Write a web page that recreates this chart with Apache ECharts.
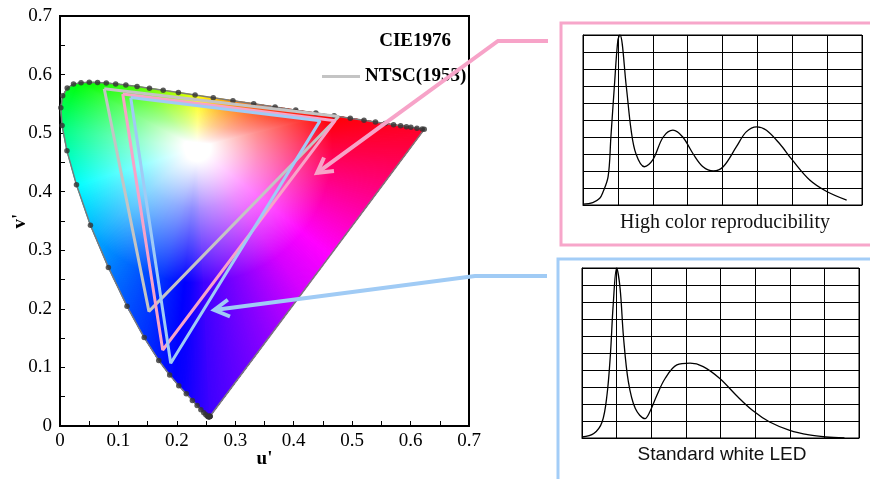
<!DOCTYPE html>
<html>
<head>
<meta charset="utf-8">
<script src="https://cdn.jsdelivr.net/npm/echarts@6/dist/echarts.min.js"></script>
<style>
html, body { margin: 0; padding: 0; background: #fff; }
#chart { width: 870px; height: 479px; }
</style>
</head>
<body>
<div id="chart"></div>
<script>
// spectral locus in CIE 1976 u'v' (380-650 nm every 5 nm, then 660, 680, 700)
const locusU = [0.2568, 0.2566, 0.2564, 0.2561, 0.2557, 0.2552, 0.2545, 0.2537, 0.2522, 0.2496,
    0.2461, 0.2411, 0.2347, 0.2266, 0.2161, 0.2033, 0.1877, 0.1690, 0.1441, 0.1147,
    0.0828, 0.0521, 0.0282, 0.0119, 0.0035, 0.0014, 0.0046, 0.0123, 0.0231, 0.0360,
    0.0501, 0.0643, 0.0792, 0.0953, 0.1127, 0.1319, 0.1531, 0.1766, 0.2026, 0.2312,
    0.2623, 0.2960, 0.3315, 0.3681, 0.4035, 0.4379, 0.4692, 0.4968, 0.5203, 0.5399,
    0.5565, 0.5709, 0.5830, 0.5929, 0.6005, 0.6109, 0.6199, 0.6234];
const locusV = [0.0166, 0.0166, 0.0163, 0.0163, 0.0159, 0.0159, 0.0159, 0.0159, 0.0169, 0.0191,
    0.0226, 0.0279, 0.0350, 0.0437, 0.0549, 0.0688, 0.0871, 0.1119, 0.1510, 0.2044,
    0.2708, 0.3427, 0.4117, 0.4698, 0.5131, 0.5432, 0.5638, 0.5770, 0.5837, 0.5861,
    0.5868, 0.5865, 0.5856, 0.5841, 0.5821, 0.5796, 0.5766, 0.5732, 0.5694, 0.5651,
    0.5604, 0.5554, 0.5501, 0.5446, 0.5393, 0.5342, 0.5296, 0.5254, 0.5219, 0.5190,
    0.5165, 0.5143, 0.5125, 0.5111, 0.5099, 0.5084, 0.5070, 0.5065];

// gamut triangles (u', v'), closed
const ntscU = [0.0757, 0.4769, 0.1522, 0.0757];
const ntscV = [0.5757, 0.5285, 0.1957, 0.5757];
const highU = [0.1074, 0.4709, 0.1758, 0.1074];
const highV = [0.5669, 0.5213, 0.1298, 0.5669];
const ledU = [0.1210, 0.4450, 0.1895, 0.1210];
const ledV = [0.5610, 0.5210, 0.1070, 0.5610];

// arrow tips (u', v')
const highTip = [0.440, 0.432];
const ledTip = [0.264, 0.198];

// spectra: wavelength (nm) and relative intensity (grid rows)
const highNm = [400, 414, 424, 428, 436, 440, 445, 450, 453, 462, 469, 476, 488, 500, 515, 529,
    543, 558, 572, 587, 601, 620, 634, 649, 663, 682, 700, 725, 750, 778];
const highVal = [0.05, 0.14, 0.4, 0.69, 1.67, 4.0, 7.0, 9.7, 10, 7.0, 4.4, 3.0, 2.25, 2.65, 4.0, 4.4,
    4.0, 3.0, 2.25, 2.0, 2.25, 3.43, 4.3, 4.6, 4.4, 3.6, 2.65, 1.47, 0.78, 0.29];
const ledNm = [400, 417, 429, 436, 441, 445, 450, 455, 460, 467, 477, 491, 498, 508, 520, 537,
    556, 575, 599, 623, 647, 671, 700, 728, 752, 779];
const ledVal = [0.06, 0.26, 0.94, 2.5, 4.9, 7.8, 10, 8.8, 5.9, 3.3, 1.73, 1.14, 1.54, 2.5, 3.5, 4.3,
    4.4, 4.2, 3.5, 2.5, 1.6, 0.94, 0.45, 0.18, 0.06, 0.0];

const SERIF = 'Liberation Serif';
const SANS = 'Liberation Sans';
const WHITE = [0.235, 0.475];   // centre of the white patch of the fill

const pairs = (xs, ys) => xs.map((x, i) => [x, ys[i]]);

// colour of the filled diagram: hue by angle around the white patch
const hueStops = [[0, 345], [13, 360], [40, 385], [88, 420], [125, 450], [150, 480], [171, 510],
    [197, 540], [233, 570], [254, 588], [267, 603], [273, 615], [279, 622], [289, 632], [306, 650],
    [321, 660], [360, 705]];
function hueAt(u, v) {
    let a = Math.atan2(v - WHITE[1], u - WHITE[0]) * 180 / Math.PI;
    if (a < 0) a += 360;
    for (let i = 1; i < hueStops.length; i++) {
        if (a <= hueStops[i][0]) {
            const [a0, h0] = hueStops[i - 1], [a1, h1] = hueStops[i];
            return (h0 + (h1 - h0) * (a - a0) / (a1 - a0)) % 360;
        }
    }
    return 345;
}
function hsl(h, l) {
    const c = (1 - Math.abs(2 * l - 1));
    const x = c * (1 - Math.abs((h / 60) % 2 - 1));
    const m = l - c / 2;
    let r, g, b;
    if (h < 60) [r, g, b] = [c, x, 0];
    else if (h < 120) [r, g, b] = [x, c, 0];
    else if (h < 180) [r, g, b] = [0, c, x];
    else if (h < 240) [r, g, b] = [0, x, c];
    else if (h < 300) [r, g, b] = [x, 0, c];
    else [r, g, b] = [c, 0, x];
    return 'rgb(' + [r, g, b].map(t => Math.round((t + m) * 255)).join(',') + ')';
}

// fan segments: locus pieces + line of purples
const segs = [];
for (let i = 0; i < locusU.length - 1; i++) {
    segs.push([locusU[i], locusV[i], locusU[i + 1], locusV[i + 1]]);
}
segs.push([locusU[locusU.length - 1], locusV[locusV.length - 1], locusU[0], locusV[0]]);

function renderFill(params, api) {
    const a = [api.value(0), api.value(1)];
    const b = [api.value(2), api.value(3)];
    const A = api.coord(a), B = api.coord(b);
    const n = Math.max(1, Math.ceil(Math.hypot(B[0] - A[0], B[1] - A[1]) / 2.5));
    const w = api.coord(WHITE);
    const children = [];
    for (let k = 0; k < n; k++) {
        const p = [a[0] + (b[0] - a[0]) * k / n, a[1] + (b[1] - a[1]) * k / n];
        const q = [a[0] + (b[0] - a[0]) * (k + 1) / n, a[1] + (b[1] - a[1]) * (k + 1) / n];
        const P = api.coord(p), Q = api.coord(q);
        const h = hueAt((p[0] + q[0]) / 2, (p[1] + q[1]) / 2);
        const M = [(P[0] + Q[0]) / 2, (P[1] + Q[1]) / 2];
        const L = Math.hypot(M[0] - w[0], M[1] - w[1]);
        const D = Math.min(L, 135);
        const grad = new echarts.graphic.LinearGradient(w[0], w[1], M[0], M[1], [
            { offset: 0, color: '#ffffff' },
            { offset: 0.1 * D / L, color: '#ffffff' },
            { offset: 0.45 * D / L, color: hsl(h, 0.78) },
            { offset: D / L, color: hsl(h, 0.5) },
            { offset: 1, color: hsl(h, 0.5) }
        ], true);
        children.push({
            type: 'polygon',
            shape: { points: [w, P, Q] },
            style: { fill: grad, stroke: grad, lineWidth: 1 }
        });
    }
    return { type: 'group', children };
}

const chart = echarts.init(document.getElementById('chart'));

const insetAxisX = (gi) => ({
    gridIndex: gi, type: 'value', min: 400, max: 800, interval: 50,
    axisLine: { lineStyle: { color: '#000', width: 1 } },
    axisTick: { show: false }, axisLabel: { show: false },
    splitLine: { show: true, lineStyle: { color: '#000', width: 1 } }
});
const insetAxisY = (gi) => ({
    gridIndex: gi, type: 'value', min: 0, max: 10, interval: 1,
    axisLine: { lineStyle: { color: '#000', width: 1 } },
    axisTick: { show: false }, axisLabel: { show: false },
    splitLine: { show: true, lineStyle: { color: '#000', width: 1 } }
});

const mainLabel = { fontFamily: SERIF, fontSize: 19, color: '#000' };

const option = {
    animation: false,
    backgroundColor: '#fff',
    grid: [
        { left: 60, top: 16, width: 409, height: 410, show: true, borderColor: '#000', borderWidth: 2, backgroundColor: 'transparent' },
        { left: 583, top: 35, width: 279, height: 170, show: true, borderColor: '#000', borderWidth: 1, backgroundColor: 'transparent' },
        { left: 582, top: 268, width: 277, height: 170, show: true, borderColor: '#000', borderWidth: 1, backgroundColor: 'transparent' }
    ],
    xAxis: [
        {
            gridIndex: 0, type: 'value', min: 0, max: 0.7, interval: 0.1,
            name: "u'", nameLocation: 'middle', nameGap: 24, nameMoveOverlap: false,
            nameTextStyle: { fontFamily: SERIF, fontSize: 19, fontWeight: 'bold', color: '#000' },
            axisLine: { lineStyle: { color: '#000', width: 2 } },
            axisTick: { inside: true, length: 5, lineStyle: { color: '#000', width: 1 } },
            minorTick: { show: true, splitNumber: 2, length: 5, lineStyle: { color: '#000', width: 1 } },
            axisLabel: Object.assign({ margin: 6 }, mainLabel),
            splitLine: { show: false }
        },
        insetAxisX(1), insetAxisX(2)
    ],
    yAxis: [
        {
            gridIndex: 0, type: 'value', min: 0, max: 0.7, interval: 0.1,
            name: "v'", nameLocation: 'middle', nameGap: 30, nameMoveOverlap: false,
            nameTextStyle: { fontFamily: SERIF, fontSize: 19, fontWeight: 'bold', color: '#000' },
            axisLine: { lineStyle: { color: '#000', width: 2 } },
            axisTick: { inside: true, length: 5, lineStyle: { color: '#000', width: 1 } },
            minorTick: { show: true, splitNumber: 2, length: 5, lineStyle: { color: '#000', width: 1 } },
            axisLabel: Object.assign({ margin: 8 }, mainLabel),
            splitLine: { show: false }
        },
        insetAxisY(1), insetAxisY(2)
    ],
    legend: {
        data: ['NTSC(1953)'], left: 317, top: 62, icon: 'rect', itemWidth: 38, itemHeight: 3,
        selectedMode: false,
        textStyle: { fontFamily: SERIF, fontSize: 19, fontWeight: 'bold', color: '#000' }
    },
    series: [
        {
            type: 'custom', xAxisIndex: 0, yAxisIndex: 0, z: 1,
            renderItem: renderFill, data: segs, encode: { x: [0, 2], y: [1, 3] }, silent: true
        },
        {
            type: 'line', xAxisIndex: 0, yAxisIndex: 0, z: 2, showSymbol: false, silent: true,
            data: pairs(locusU, locusV), lineStyle: { color: '#7a7a7a', width: 1.5 }
        },
        {
            type: 'line', xAxisIndex: 0, yAxisIndex: 0, z: 2, showSymbol: false, silent: true,
            data: [[locusU[locusU.length - 1], locusV[locusV.length - 1]], [locusU[0], locusV[0]]],
            lineStyle: { color: '#7a7a7a', width: 1.5 }
        },
        {
            type: 'scatter', xAxisIndex: 0, yAxisIndex: 0, z: 3, silent: true,
            data: pairs(locusU, locusV), symbolSize: 5.5, itemStyle: { color: '#333' }
        },
        {
            name: 'NTSC(1953)', type: 'line', xAxisIndex: 0, yAxisIndex: 0, z: 4, showSymbol: false,
            data: pairs(ntscU, ntscV), color: '#c4c4c4', lineStyle: { color: '#c4c4c4', width: 3 }
        },
        {
            type: 'line', xAxisIndex: 0, yAxisIndex: 0, z: 4, showSymbol: false,
            data: pairs(highU, highV), lineStyle: { color: '#f7a3c8', width: 3 }
        },
        {
            type: 'line', xAxisIndex: 0, yAxisIndex: 0, z: 4, showSymbol: false,
            data: pairs(ledU, ledV), lineStyle: { color: '#a0cbf5', width: 3 }
        },
        {
            type: 'line', xAxisIndex: 1, yAxisIndex: 1, showSymbol: false, smooth: 0.35,
            data: pairs(highNm, highVal), lineStyle: { color: '#000', width: 1.3 }
        },
        {
            type: 'line', xAxisIndex: 2, yAxisIndex: 2, showSymbol: false, smooth: 0.35,
            data: pairs(ledNm, ledVal), lineStyle: { color: '#000', width: 1.3 }
        }
    ]
};
chart.setOption(option);

// arrows from the inset boxes to the gamut triangles
function arrow(from, kink, tip, color) {
    const ang = Math.atan2(kink[1] - tip[1], kink[0] - tip[0]);
    const arm = (d) => [tip[0] + 17 * Math.cos(ang + d), tip[1] + 17 * Math.sin(ang + d)];
    return [
        { type: 'polyline', z: 100, shape: { points: [from, kink, tip] }, style: { stroke: color, lineWidth: 4, fill: null } },
        { type: 'polyline', z: 100, shape: { points: [arm(0.52), tip, arm(-0.52)] }, style: { stroke: color, lineWidth: 4, fill: null } }
    ];
}
const pinkTip = chart.convertToPixel({ gridIndex: 0 }, highTip);
const blueTip = chart.convertToPixel({ gridIndex: 0 }, ledTip);

chart.setOption({
    graphic: [
        { type: 'rect', z: 50, shape: { x: 561, y: 23, width: 330, height: 222 }, style: { stroke: '#f7a6ca', lineWidth: 3, fill: null } },
        { type: 'rect', z: 50, shape: { x: 558, y: 259, width: 330, height: 240 }, style: { stroke: '#a3cdf7', lineWidth: 3, fill: null } },
        ...arrow([548, 41], [498, 41], pinkTip, '#f7a3c8'),
        ...arrow([547, 276], [475, 276], blueTip, '#a0cbf5'),
        { type: 'text', z: 60, x: 451, y: 41, style: { text: 'CIE1976', fontFamily: SERIF, fontSize: 19, fontWeight: 'bold', fill: '#000', align: 'right', verticalAlign: 'middle' } },
        { type: 'text', z: 60, x: 725, y: 223, style: { text: 'High color reproducibility', fontFamily: SERIF, fontSize: 20, fill: '#111', align: 'center', verticalAlign: 'middle' } },
        { type: 'text', z: 60, x: 722, y: 455, style: { text: 'Standard white LED', fontFamily: SANS, fontSize: 19, fill: '#111', align: 'center', verticalAlign: 'middle' } }
    ]
});
</script>
</body>
</html>
